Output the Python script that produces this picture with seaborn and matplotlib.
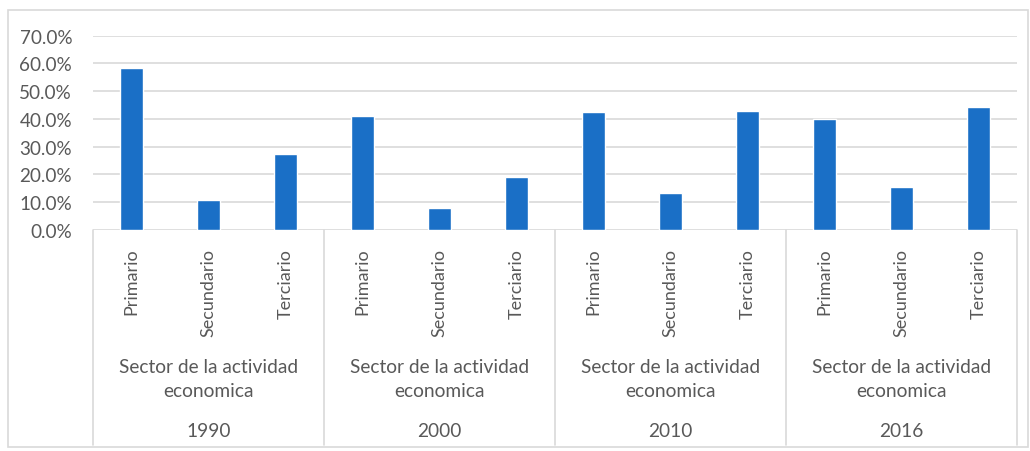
import matplotlib
matplotlib.use("Agg")
import matplotlib.pyplot as plt
import matplotlib.transforms as mtransforms
from matplotlib.lines import Line2D
from matplotlib.patches import Rectangle
from matplotlib.ticker import PercentFormatter
import pandas as pd
import seaborn as sns

# Data: share of each economic sector per census year (%)
years = ["1990", "2000", "2010", "2016"]
sectors = ["Primario", "Secundario", "Terciario"]
group_title = "Sector de la actividad\neconomica"
shares_1990 = [58.2, 10.8, 27.3]
shares_2000 = [41.0, 7.7, 19.1]
shares_2010 = [42.5, 13.2, 42.7]
shares_2016 = [39.8, 15.4, 44.2]
y_ticks = [0.0, 0.1, 0.2, 0.3, 0.4, 0.5, 0.6, 0.7]

sns.set_theme(style="white")
plt.rcParams["font.family"] = ["Lato", "DejaVu Sans"]

TEXT = "#595959"
GRID = "#d9d9d9"
BAR = "#1a6fc6"

rows = []
for year, vals in zip(years, [shares_1990, shares_2000, shares_2010, shares_2016]):
    for sec, v in zip(sectors, vals):
        rows.append({"slot": f"{year} {sec}", "share": v / 100.0})
df = pd.DataFrame(rows)

W, H = 1030, 452
fig = plt.figure(figsize=(W / 100, H / 100), dpi=100)
fig.patch.set_facecolor("white")

ax_left, ax_right, ax_top, ax_bottom = 93, 1017, 36.7, 230.7
ax = fig.add_axes([ax_left / W, 1 - ax_bottom / H,
                   (ax_right - ax_left) / W, (ax_bottom - ax_top) / H])

sns.barplot(data=df, x="slot", y="share", color=BAR, width=0.31,
            saturation=1, ax=ax)

ax.set_xlim(-0.5, len(df) - 0.5)
ax.set_ylim(0, 0.7)
ax.set_yticks(y_ticks)
ax.yaxis.set_major_formatter(PercentFormatter(1.0, decimals=1))
ax.yaxis.grid(True, color=GRID, linewidth=1.2)
ax.set_axisbelow(True)
for s in ax.spines.values():
    s.set_visible(False)
ax.set_xlabel("")
ax.set_ylabel("")

ax.set_xticks(range(len(df)))
ax.set_xticklabels(sectors * len(years), rotation=90, color=TEXT, fontsize=13)
ax.tick_params(axis="x", length=0, pad=13)
ax.tick_params(axis="y", length=0, pad=15, labelcolor=TEXT, labelsize=13.6)

# Group captions and year labels under the category axis
blend = mtransforms.blended_transform_factory(ax.transData, fig.transFigure)
for g, year in enumerate(years):
    cx = 1 + 3 * g
    ax.text(cx, 1 - 379.5 / H, group_title, transform=blend, ha="center",
            va="center", color=TEXT, fontsize=13.8, linespacing=1.45)
    ax.text(cx, 1 - 432 / H, year, transform=blend, ha="center",
            va="center", color=TEXT, fontsize=13.8)

# Vertical separators between year groups
for xs in [-0.5, 2.5, 5.5, 8.5, 11.5]:
    ax.add_line(Line2D([xs, xs], [1 - ax_bottom / H, 1 - 446 / H],
                       transform=blend, color=GRID, linewidth=1.2,
                       clip_on=False))

# Chart frame
fig.patches.append(Rectangle((8 / W, 1 - 448 / H), (1028 - 8) / W,
                             (448 - 11) / H, transform=fig.transFigure,
                             fill=False, edgecolor=GRID, linewidth=1.2))

fig.savefig("out.png", dpi=100)
